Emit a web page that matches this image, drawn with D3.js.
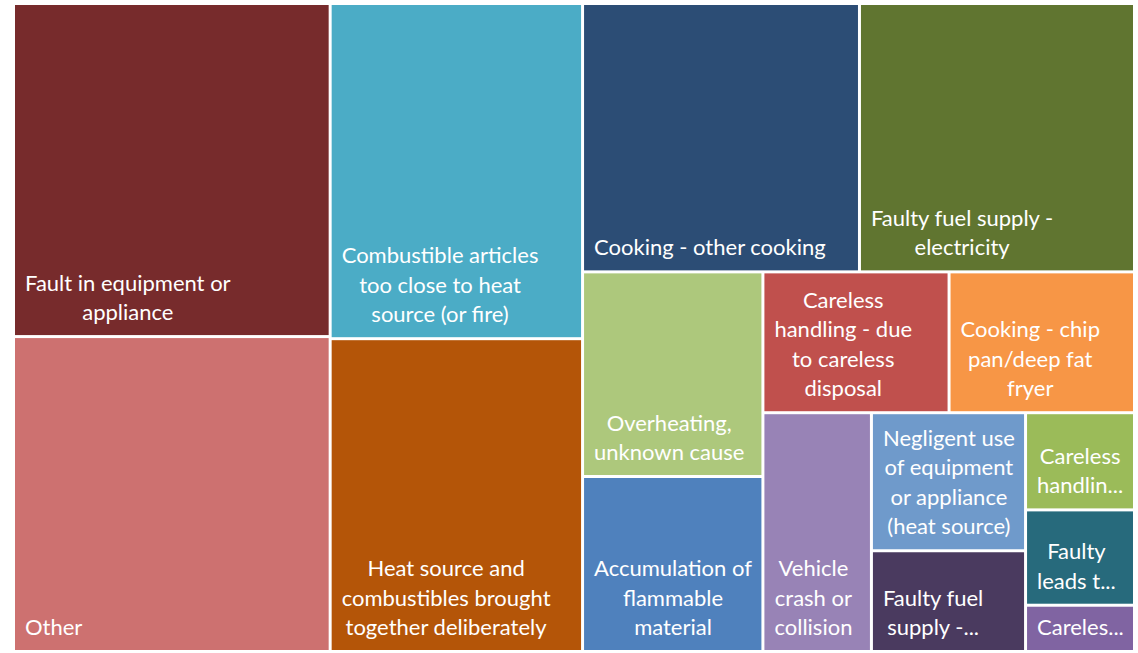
<!DOCTYPE html>
<html>
<head>
<meta charset="utf-8">
<script src="https://cdn.jsdelivr.net/npm/d3@7"></script>
<style>
  body { margin: 0; background: #fff; }
  svg { display: block; }
  text { font-family: Lato, "Open Sans", sans-serif; font-size: 22px; fill: #fff; }
</style>
</head>
<body>
<svg id="chart" width="1138" height="653"></svg>
<script>
// causes of fire, sorted as in the chart
var causes = [
	'Fault in equipment or appliance', 'Other', 'Combustible articles too close to heat source (or fire)',
	'Heat source and combustibles brought together deliberately', 'Cooking - other cooking',
	'Faulty fuel supply - electricity', 'Overheating, unknown cause', 'Accumulation of flammable material',
	'Careless handling - due to careless disposal', 'Cooking - chip pan/deep fat fryer',
	'Vehicle crash or collision', 'Negligent use of equipment or appliance (heat source)',
	'Faulty fuel supply - other', 'Careless handling - other', 'Faulty leads to equipment or appliance',
	'Careless handling - other'
];
var counts = [1046, 989, 839, 783, 737, 732, 366, 313, 260, 259, 257, 211, 154, 105, 103, 50];
// label lines as they are wrapped / cut in the picture
var labels = [
	['Fault in equipment or', 'appliance'],
	['Other'],
	['Combustible articles', 'too close to heat', 'source (or fire)'],
	['Heat source and', 'combustibles brought', 'together deliberately'],
	['Cooking - other cooking'],
	['Faulty fuel supply -', 'electricity'],
	['Overheating,', 'unknown cause'],
	['Accumulation of', 'flammable', 'material'],
	['Careless', 'handling  - due', 'to careless', 'disposal'],
	['Cooking - chip', 'pan/deep fat', 'fryer'],
	['Vehicle', 'crash or', 'collision'],
	['Negligent use', 'of equipment', 'or appliance', '(heat source)'],
	['Faulty fuel', 'supply -...'],
	['Careless', 'handlin...'],
	['Faulty', 'leads t...'],
	['Careles...']
];
var colors = [
	'#772b2c', '#cd7170', '#4bacc6', '#b45508', '#2c4d75', '#607530', '#adc87c', '#4f81bd',
	'#c0504d', '#f79646', '#9883b6', '#6f9acb', '#4a3a5f', '#9bbb59', '#276a7c', '#8064a2'
];

// squarify like d3's, but without clamping the ratio to >= 1 (closer to how Excel splits)
var tileRatio = 0.85;
var tileExcel = function(parent, x0, y0, x1, y1) {
	var nodes = parent.children, n = nodes.length, value = parent.value;
	var i0 = 0, i1 = 0;
	while (i0 < n) {
		var dx = x1 - x0, dy = y1 - y0;
		var sum = nodes[i1++].value, minV = sum, maxV = sum;
		var alpha = Math.max(dy / dx, dx / dy) / (value * tileRatio);
		var beta = sum * sum * alpha;
		var minRatio = Math.max(maxV / beta, beta / minV);
		for (; i1 < n; ++i1) {
			var v = nodes[i1].value;
			sum += v;
			if (v < minV) minV = v;
			if (v > maxV) maxV = v;
			beta = sum * sum * alpha;
			var r = Math.max(maxV / beta, beta / minV);
			if (r > minRatio) { sum -= v; break; }
			minRatio = r;
		}
		var row = { value: sum, children: nodes.slice(i0, i1) };
		if (dx < dy) d3.treemapDice(row, x0, y0, x1, y0 += dy * sum / value);
		else d3.treemapSlice(row, x0, y0, x0 += dx * sum / value, y1);
		value -= sum;
		i0 = i1;
	}
};

var svg = d3.select('#chart');
var rows = causes.map(function (c, i) {
	return { name: c, value: counts[i], lines: labels[i], color: colors[i] };
});

var root = d3.hierarchy({ children: rows })
	.sum(function (d) { return d.value || 0; });

d3.treemap()
	.tile(tileExcel)
	.size([1118, 645])
	.paddingInner(3)(root);

var cell = svg.append('g')
	.attr('transform', 'translate(15,5)')
	.selectAll('g')
	.data(root.leaves())
	.enter()
	.append('g');

cell.append('rect')
	.attr('x', function (d) { return d.x0; })
	.attr('y', function (d) { return d.y0; })
	.attr('width', function (d) { return d.x1 - d.x0; })
	.attr('height', function (d) { return d.y1 - d.y0; })
	.attr('fill', function (d) { return d.data.color; });

var lineH = 29.5;
cell.each(function (d) {
	var g = d3.select(this);
	var n = d.data.lines.length;
	var t = g.selectAll('text')
		.data(d.data.lines)
		.enter()
		.append('text')
		.attr('text-anchor', 'middle')
		.attr('y', function (l, i) { return d.y1 - 15 - (n - 1 - i) * lineH; })
		.text(function (l) { return l; });
	var maxW = 0;
	t.each(function () { maxW = Math.max(maxW, this.getComputedTextLength()); });
	t.attr('x', d.x0 + 10 + maxW / 2);
});
</script>
</body>
</html>
